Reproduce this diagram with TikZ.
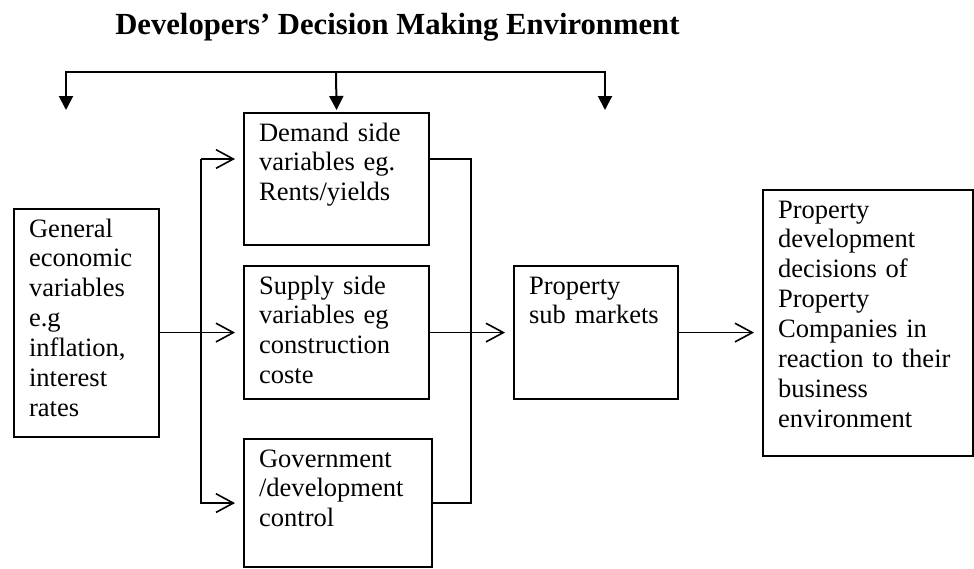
\documentclass[tikz,border=0pt]{standalone}
\usepackage{fontspec}
\setmainfont{Liberation Serif}
\usetikzlibrary{arrows.meta,calc}
\tikzset{dtri/.tip={Triangle[length=10.5pt,width=10.5pt]}}
\begin{document}
\begin{tikzpicture}[x=0.75pt,y=-0.75pt,
  blk/.style={draw, line width=1.6pt, anchor=north west, align=left,
    inner xsep=11.25pt, inner ysep=0pt, text height=21pt,
    font=\fontsize{19.9pt}{22.4pt}\selectfont},
  conn/.style={line width=1.2pt},
  arr/.style={conn, -{Straight Barb[length=13pt,width=14pt]}, shorten >=6pt},
  bar/.style={line width=1.5pt},
]
\useasboundingbox (0,0) rectangle (974,568);

\node[font=\fontsize{23pt}{27pt}\selectfont\bfseries, anchor=base west, inner sep=0pt] (title) at (115,34)
  {Developers’ Decision Making Environment};

\node[blk, text width=86.25pt, text depth=150pt] (gen) at (13,208)
  {General\\economic\\variables\\e.g\\inflation,\\interest\\rates};
\node[blk, text width=116.25pt, text depth=78pt] (dem) at (243,112)
  {Demand side\\variables eg.\\Rents/yields};
\node[blk, text width=116.25pt, text depth=78.75pt] (sup) at (243,265)
  {Supply side\\variables eg\\construction\\coste};
\node[blk, text width=118.5pt, text depth=75pt] (gov) at (243,438)
  {Government\\/development\\control};
\node[blk, text width=100.5pt, text depth=78.75pt] (sub) at (513,265)
  {Property\\sub markets};
\node[blk, text width=135pt, text depth=178.5pt] (res) at (762,189)
  {Property\\development\\decisions of\\Property\\Companies in\\reaction to their\\business\\environment};

% top bracket
\coordinate (tl) at (66,72);
\coordinate (tm) at (336,72);
\coordinate (tr) at (605,72);
\coordinate (al) at (66,110);
\coordinate (ar) at (605,110);
\draw[bar, dtri-dtri] (al) -- (tl) -- (tr) -- (ar);
\draw[bar, -dtri, shorten >=1.5pt] (tm) -- (dem.north);

% left distribution
\coordinate (lt) at (201,159);
\coordinate (rt) at (471,159);
\draw[arr] (gen.east |- sup.west) -- (sup.west);
\draw[arr] (lt) -- (dem.west |- lt);
\draw[arr] (lt) -- (lt |- gov.west) -- (gov.west);

% right collection
\draw[conn] (dem.east |- rt) -- (rt) -- (rt |- gov.east) -- (gov.east);
\draw[arr] (sup.east) -- (sub.west);
\draw[arr] (sub.east) -- (res.west |- sub.east);
\end{tikzpicture}
\end{document}
